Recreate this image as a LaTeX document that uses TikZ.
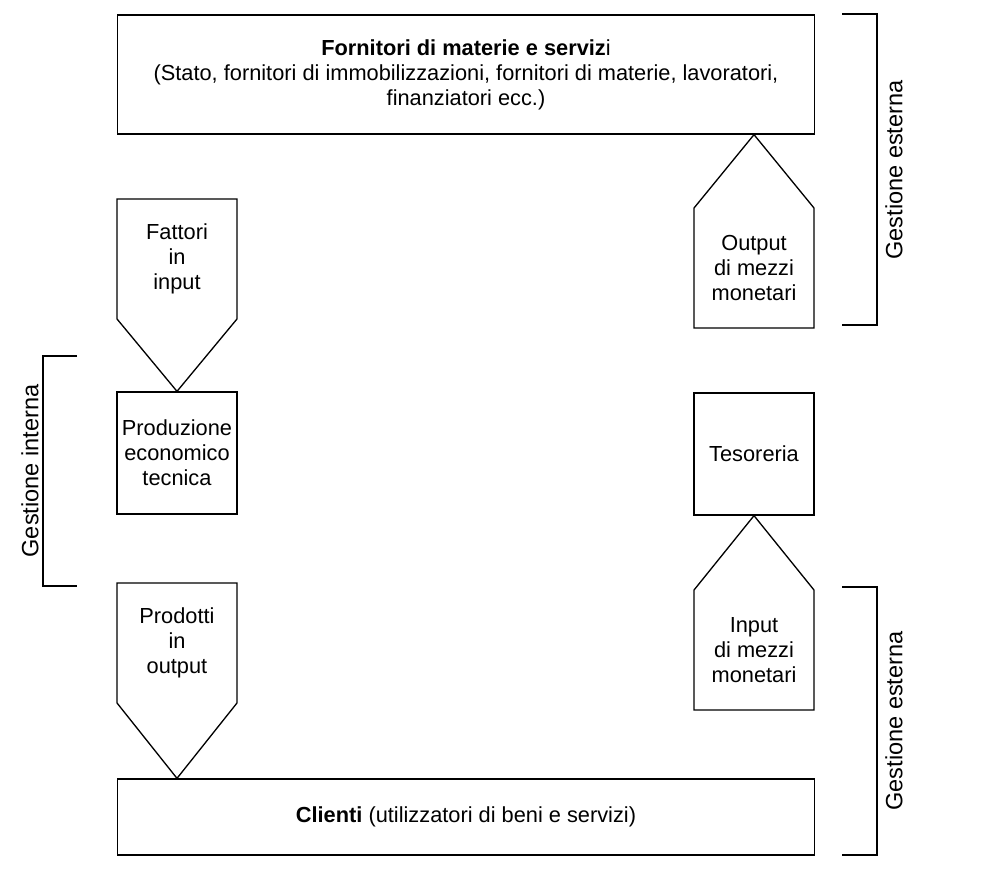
\documentclass[tikz,border=0pt]{standalone}
\usepackage{fontspec}
\setmainfont{Liberation Sans}
\usetikzlibrary{positioning}
\tikzset{
    body text/.style = {font=\fontsize{12.4pt}{14.2pt}\selectfont},
    wide box/.style = {draw, line width=0.75pt, body text,
                       minimum width=13.94cm, inner sep=2pt
    },
    inner box/.style = {draw, line width=0.75pt, body text,
                        minimum width=2.4cm, minimum height=2.44cm, inner sep=1pt
    },
    flow/.style = {body text, minimum width=2.4cm, minimum height=2.4cm,
                   inner sep=1pt, outer sep=0pt
    },
    flow line/.style = {line width=0.75pt, line join=miter},
    bracket/.style = {line width=0.75pt},
    side label/.style = {font=\fontsize{13.4pt}{15pt}\selectfont, rotate=90, inner sep=0pt},
}
\begin{document}
\begin{tikzpicture}[x=0.02cm, y=-0.02cm, every text node part/.style={align=center}]
        \useasboundingbox (0,0) rectangle (1000,874);
        % suppliers and customers
        \node (forn) [wide box, minimum height=2.38cm] at (466,74.5)
              {\textbf{Fornitori di materie e serviz}i\\
               (Stato, fornitori di immobilizzazioni, fornitori di materie, lavoratori,\\
               finanziatori ecc.)};
        \node (cli) [wide box, minimum height=1.52cm] at (466,817)
              {\textbf{Clienti} (utilizzatori di beni e servizi)};
        % internal units
        \node (prod) [inner box] at (177,453) {Produzione\\economico\\tecnica};
        \node (teso) [inner box] at (754,454) {Tesoreria};
        % flows
        \node (fatt) [flow] at (177,259) {Fattori\\in\\input};
        \node (prodotti) [flow] at (177,643) {Prodotti\\in\\output};
        \node (outm) [flow] at (754,268) {Output\\di mezzi\\monetari};
        \node (inm) [flow] at (754,650) {Input\\di mezzi\\monetari};
        \draw [flow line] (fatt.north west) -- (fatt.north east) -- (fatt.south east)
              -- (prod.north) -- (fatt.south west) -- cycle;
        \draw [flow line] (prodotti.north west) -- (prodotti.north east) -- (prodotti.south east)
              -- (prodotti |- cli.north) -- (prodotti.south west) -- cycle;
        \draw [flow line] (outm.south west) -- (outm.south east) -- (outm.north east)
              -- (outm |- forn.south) -- (outm.north west) -- cycle;
        \draw [flow line] (inm.south west) -- (inm.south east) -- (inm.north east)
              -- (teso.south) -- (inm.north west) -- cycle;
        % brackets
        \draw [bracket] (842,14) -- (877,14) -- (877,325) -- (842,325);
        \draw [bracket] (842,587) -- (877,587) -- (877,855) -- (842,855);
        \draw [bracket] (77,356) -- (43,356) -- (43,586) -- (77,586);
        \node (est1) [side label] at (894,170) {Gestione esterna};
        \node (est2) [side label] at (894,721) {Gestione esterna};
        \node (int) [side label] at (30,471) {Gestione interna};
\end{tikzpicture}
\end{document}
